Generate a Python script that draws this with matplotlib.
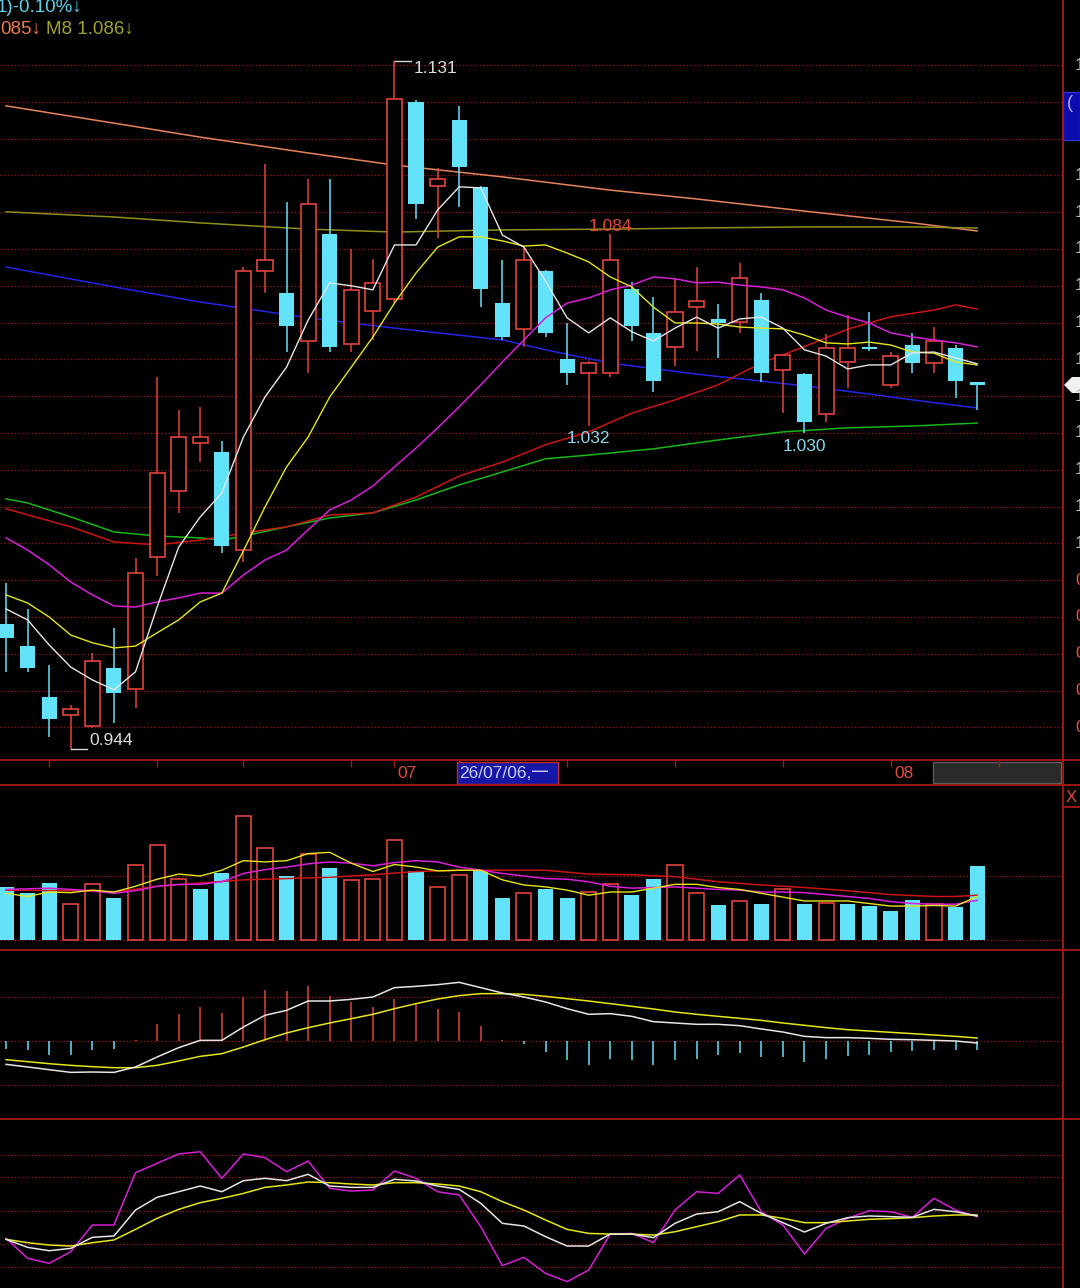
import numpy as np
import matplotlib
matplotlib.use('Agg')
import matplotlib.pyplot as plt
from matplotlib.patches import Rectangle, Polygon
from matplotlib.lines import Line2D

plt.rcParams['font.family'] = ['Liberation Sans', 'DejaVu Sans', 'Noto Sans CJK SC']

# ---------------- data ----------------
opens = [0.9781, 0.9721, 0.9583, 0.9534, 0.9504, 0.9661, 0.9604, 0.9963, 1.0142, 1.0273,
         1.0248, 0.9982, 1.0740, 1.0680, 1.0550, 1.0841, 1.0542, 1.0631, 1.0664, 1.1199,
         1.0971, 1.1151, 1.0968, 1.0653, 1.0583, 1.0740, 1.0501, 1.0463, 1.0463, 1.0691,
         1.0572, 1.0534, 1.0642, 1.0610, 1.0602, 1.0661, 1.0471, 1.0460, 1.0352, 1.0493,
         1.0534, 1.0430, 1.0539, 1.0490, 1.0531, 1.0439]
highs = [0.9892, 0.9822, 0.9670, 0.9561, 0.9702, 0.9770, 0.9960, 1.0452, 1.0363, 1.0371,
         1.0278, 1.0751, 1.1031, 1.0928, 1.0990, 1.0990, 1.0800, 1.0773, 1.1310, 1.1205,
         1.1020, 1.1189, 1.0970, 1.0770, 1.0803, 1.0742, 1.0599, 1.0495, 1.0840, 1.0710,
         1.0670, 1.0721, 1.0751, 1.0651, 1.0762, 1.0680, 1.0512, 1.0462, 1.0569, 1.0621,
         1.0629, 1.0520, 1.0572, 1.0588, 1.0539, 1.0439]
lows = [0.9650, 0.9650, 0.9474, 0.9440, 0.9498, 0.9512, 0.9553, 0.9911, 1.0083, 1.0221,
        0.9974, 0.9949, 1.0680, 1.0520, 1.0463, 1.0520, 1.0520, 1.0553, 1.0653, 1.0882,
        1.0830, 1.0914, 1.0642, 1.0553, 1.0534, 1.0561, 1.0430, 1.0320, 1.0452, 1.0550,
        1.0411, 1.0482, 1.0523, 1.0504, 1.0572, 1.0439, 1.0354, 1.0300, 1.0330, 1.0422,
        1.0523, 1.0422, 1.0463, 1.0463, 1.0395, 1.0363]
closes = [0.9743, 0.9661, 0.9523, 0.9550, 0.9681, 0.9594, 0.9920, 1.0191, 1.0289, 1.0289,
          0.9993, 1.0740, 1.0770, 1.0591, 1.0922, 1.0534, 1.0689, 1.0708, 1.1208, 1.0922,
          1.0990, 1.1023, 1.0691, 1.0561, 1.0770, 1.0572, 1.0463, 1.0490, 1.0770, 1.0591,
          1.0441, 1.0629, 1.0659, 1.0599, 1.0721, 1.0463, 1.0512, 1.0330, 1.0531, 1.0531,
          1.0529, 1.0509, 1.0490, 1.0550, 1.0441, 1.0430]

ma5 = [0.9822, 0.9792, 0.9724, 0.9664, 0.9629, 0.9602, 0.9651, 0.9827, 0.9990, 1.0072,
       1.0137, 1.0289, 1.0398, 1.0479, 1.0607, 1.0708, 1.0700, 1.0689, 1.0811, 1.0811,
       1.0906, 1.0969, 1.0966, 1.0838, 1.0805, 1.0713, 1.0613, 1.0572, 1.0613, 1.0575,
       1.0550, 1.0585, 1.0615, 1.0585, 1.0610, 1.0615, 1.0585, 1.0526, 1.0509, 1.0474,
       1.0485, 1.0485, 1.0518, 1.0520, 1.0504, 1.0488]
ma10 = [0.9860, 0.9838, 0.9800, 0.9751, 0.9730, 0.9716, 0.9721, 0.9757, 0.9792, 0.9841,
        0.9865, 0.9980, 1.0099, 1.0208, 1.0289, 1.0398, 1.0479, 1.0561, 1.0653, 1.0735,
        1.0805, 1.0833, 1.0833, 1.0822, 1.0808, 1.0811, 1.0789, 1.0765, 1.0724, 1.0697,
        1.0642, 1.0599, 1.0599, 1.0596, 1.0588, 1.0585, 1.0583, 1.0566, 1.0545, 1.0542,
        1.0547, 1.0539, 1.0520, 1.0517, 1.0493, 1.0485]
ma20 = [1.0015, 0.9982, 0.9942, 0.9895, 0.9860, 0.9830, 0.9827, 0.9841, 0.9852, 0.9865,
        0.9865, 0.9914, 0.9955, 0.9982, 1.0037, 1.0091, 1.0118, 1.0156, 1.0208, 1.0259,
        1.0314, 1.0371, 1.0431, 1.0493, 1.0553, 1.0613, 1.0653, 1.0667, 1.0689, 1.0702,
        1.0724, 1.0719, 1.0708, 1.0710, 1.0702, 1.0697, 1.0689, 1.0667, 1.0634, 1.0615,
        1.0599, 1.0572, 1.0561, 1.0553, 1.0545, 1.0534]
ma30_idx = [0, 3, 5, 7, 9, 11, 13, 15, 17, 19, 21, 23, 25, 27, 29, 31, 33, 35, 37, 39, 41, 43, 44, 45]
ma30 = [1.0094, 1.0045, 1.0004, 0.9996, 1.0009, 1.0028, 1.0045, 1.0077, 1.0083, 1.0126,
        1.0183, 1.0221, 1.0268, 1.0303, 1.0354, 1.0390, 1.0431, 1.0490, 1.0535, 1.0582,
        1.0616, 1.0634, 1.0648, 1.0637]
ma60_idx = [0, 1, 3, 5, 7, 9, 10, 11, 13, 15, 17, 19, 21, 23, 25, 27, 30, 33, 36, 39, 42, 45]
ma60 = [1.0121, 1.0110, 1.0072, 1.0031, 1.0020, 1.0015, 1.0009, 1.0020, 1.0045, 1.0069,
        1.0083, 1.0118, 1.0159, 1.0194, 1.0230, 1.0240, 1.0257, 1.0281, 1.0303, 1.0314,
        1.0319, 1.0327]
ma120_idx = [0, 5, 9, 14, 18, 23, 25, 28, 32, 35, 37, 40, 42, 45]
ma120 = [1.0751, 1.0697, 1.0656, 1.0613, 1.0585, 1.0553, 1.0526, 1.0490, 1.0460, 1.0441,
         1.0428, 1.0406, 1.0390, 1.0368]
long_idx = [0, 5, 9, 14, 18, 23, 28, 32, 37, 42, 45]
ma250 = [1.1189, 1.1142, 1.1104, 1.1061, 1.1028, 1.0996, 1.0960, 1.0936, 1.0903, 1.0871, 1.0849]
m8 = [1.0901, 1.0887, 1.0871, 1.0854, 1.0846, 1.0852, 1.0854, 1.0857, 1.0860, 1.0860, 1.0857]

volume = [83, 73, 89, 56, 87, 66, 117, 149, 96, 79, 105, 193, 143, 100, 134, 113, 94, 95, 157, 108,
          83, 102, 109, 66, 73, 79, 66, 75, 87, 70, 95, 117, 73, 54, 61, 56, 80, 56, 58, 56,
          53, 45, 62, 57, 52, 116]
vol_up = [0, 0, 0, 1, 1, 0, 1, 1, 1, 0, 0, 1, 1, 0, 1, 0, 1, 1, 1, 0,
          1, 1, 0, 0, 1, 0, 0, 1, 1, 0, 0, 1, 1, 0, 1, 0, 1, 0, 1, 0,
          0, 0, 0, 1, 0, 0]
vol_ma5 = [73, 68, 75, 74, 78, 75, 84, 95, 103, 100, 109, 124, 122, 124, 135, 137, 120, 107, 118, 114,
           108, 109, 109, 94, 86, 83, 78, 70, 75, 75, 81, 87, 87, 82, 79, 73, 67, 61, 61, 61,
           57, 53, 53, 54, 53, 68]
vol_ma10 = [79, 80, 81, 79, 77, 73, 77, 84, 87, 87, 91, 104, 110, 114, 119, 122, 120, 116, 121, 124,
            122, 114, 109, 104, 100, 96, 95, 91, 84, 81, 82, 83, 81, 79, 78, 75, 75, 74, 71, 68,
            65, 60, 57, 56, 56, 62]
vol_ma20_idx = [0, 3, 5, 7, 9, 11, 13, 15, 17, 19, 21, 23, 25, 27, 29, 31, 33, 35, 37, 39, 41, 43, 44, 45]
vol_ma20 = [78, 77, 75, 84, 89, 94, 96, 98, 102, 107, 109, 109, 109, 103, 102, 99, 91, 86, 82, 77,
            71, 68, 68, 70]

# MACD in units of 0.001
macd_hist = [-1.74, -2.12, -3.26, -3.26, -2.12, -1.74, 0.30, 3.79, 6.21, 7.72,
             6.36, 9.99, 11.66, 11.36, 12.41, 10.14, 8.86, 7.72, 9.61, 8.48,
             7.34, 6.59, 3.33, 0.15, -0.61, -2.50, -4.39, -5.53, -4.01, -4.39,
             -5.53, -4.39, -4.01, -3.26, -2.73, -3.63, -3.63, -4.77, -4.01, -3.48,
             -3.26, -2.50, -2.27, -1.97, -2.12, -1.97]
dif = [-5.30, -5.90, -6.51, -7.12, -7.04, -7.12, -5.90, -3.63, -1.51, 0.15,
       0.15, 3.18, 5.83, 6.96, 9.08, 9.08, 9.46, 9.99, 12.11, 12.41,
       12.79, 13.32, 12.11, 10.90, 9.99, 8.86, 7.34, 6.06, 6.21, 5.60,
       4.39, 4.09, 3.79, 3.79, 3.48, 2.73, 2.04, 1.06, 0.76, 0.76,
       0.61, 0.38, 0.30, 0.15, 0.00, -0.45]
dea = [-4.24, -4.69, -5.15, -5.53, -5.83, -6.06, -6.06, -5.53, -4.54, -3.48,
       -2.88, -1.36, 0.30, 1.82, 3.03, 4.09, 5.07, 6.06, 7.34, 8.48,
       9.54, 10.30, 10.75, 10.75, 10.60, 10.14, 9.61, 9.08, 8.48, 7.87,
       7.27, 6.59, 6.06, 5.60, 5.15, 4.69, 4.09, 3.56, 3.03, 2.57,
       2.27, 1.97, 1.67, 1.36, 1.06, 0.68]

kdj_k = [24.5, 17.3, 14.3, 16.4, 26.3, 27.5, 50.7, 62.1, 67.1, 72.2,
         67.1, 77.0, 79.1, 77.0, 82.7, 72.2, 71.0, 71.0, 78.2, 76.7,
         72.2, 69.2, 56.7, 38.8, 36.4, 26.9, 18.5, 18.5, 29.2, 29.2,
         26.0, 38.8, 47.1, 49.2, 58.2, 47.7, 39.4, 31.0, 38.8, 43.9,
         45.4, 44.8, 44.2, 51.3, 49.2, 45.4]
kdj_d = [24.5, 21.5, 19.4, 18.5, 21.5, 23.9, 33.4, 43.3, 51.3, 57.3,
         61.2, 65.6, 71.0, 73.1, 75.8, 75.2, 74.0, 73.1, 75.2, 75.2,
         74.0, 72.2, 67.1, 58.2, 50.7, 41.8, 33.4, 29.8, 29.2, 29.2,
         28.3, 31.3, 35.8, 40.3, 46.3, 46.3, 43.3, 39.4, 39.4, 40.9,
         42.4, 43.0, 43.9, 45.4, 46.3, 46.3]
kdj_j = [25.4, 7.5, 3.0, 13.4, 37.3, 37.3, 84.2, 92.5, 100.9, 102.9,
         79.1, 100.9, 97.6, 85.0, 94.6, 70.1, 67.7, 68.6, 85.6, 79.1,
         67.1, 64.2, 35.8, 0.9, 8.4, -6.0, -13.4, -3.0, 29.2, 29.8,
         21.5, 50.7, 67.1, 65.6, 82.1, 49.2, 37.3, 11.3, 34.3, 43.3,
         50.1, 49.2, 44.2, 61.2, 50.7, 44.8]

price_grid = [0.95, 0.96, 0.97, 0.98, 0.99, 1.00, 1.01, 1.02, 1.03, 1.04,
              1.05, 1.06, 1.07, 1.08, 1.09, 1.10, 1.11, 1.12, 1.13]
week_ticks = [2, 7, 11, 16, 18, 21, 26, 31, 36, 41, 46]
month_labels = [(18, '07'), (41, '08')]
cursor_idx = 21
cursor_label = '26/07/06,一'

# ---------------- style ----------------
W, H = 1080, 1288
RIGHT = 1063
X0, X1 = -0.28, 48.98
STEP = 21.58          # pixels per candle
RED = '#e2433c'
CYAN = '#62e3fa'
GRID = '#8a1414'
SEP = '#a81818'

fig = plt.figure(figsize=(W / 100, H / 100), dpi=100, facecolor='black')


def add_panel(top, bottom, ylim):
    ax = fig.add_axes([0, 1 - bottom / H, RIGHT / W, (bottom - top) / H])
    ax.set_xlim(X0, X1)
    ax.set_ylim(*ylim)
    ax.set_axis_off()
    return ax


def dotted(ax, levels):
    for v in levels:
        ax.axhline(v, color=GRID, lw=0.9, ls=(0, (1.2, 1.6)), zorder=0)


def hline_px(y, x0=0, x1=W, color=SEP, lw=1.3):
    fig.add_artist(Line2D([x0 / W, x1 / W], [1 - y / H, 1 - y / H],
                          transform=fig.transFigure, color=color, lw=lw))


x = np.arange(len(closes))
o = np.array(opens); c = np.array(closes)
hi = np.array(highs); lo = np.array(lows)
up = c >= o
btop = np.maximum(o, c); bbot = np.minimum(o, c)

# ---------------- main price panel ----------------
ax = add_panel(0, 760, (1.13 - 695 / 3680, 1.13 + 65 / 3680))
dotted(ax, price_grid)

ax.plot(long_idx, ma250, color='#e8845a', lw=1.1, zorder=2)
ax.plot(long_idx, m8, color='#8f8f1c', lw=1.1, zorder=2)
ax.plot(ma120_idx, ma120, color='#2424e6', lw=1.1, zorder=2)
ax.plot(ma60_idx, ma60, color='#14b814', lw=1.1, zorder=2)
ax.plot(ma30_idx, ma30, color='#cc1414', lw=1.1, zorder=2)

wick_col = [RED if u else CYAN for u in up]
ax.vlines(x, btop, hi, colors=wick_col, lw=1.1, zorder=3)
ax.vlines(x, lo, bbot, colors=wick_col, lw=1.1, zorder=3)
ax.bar(x[up], (btop - bbot)[up], bottom=bbot[up], width=0.7,
       facecolor='black', edgecolor=RED, lw=1.2, zorder=3)
ax.bar(x[~up], np.maximum((btop - bbot)[~up], 0.0004), bottom=bbot[~up], width=0.7,
       color=CYAN, lw=0, zorder=3)

ax.plot(x, ma20, color='#d81ed8', lw=1.1, zorder=4)
ax.plot(x, ma10, color='#e6e61a', lw=1.0, zorder=4)
ax.plot(x, ma5, color='#e6e6e6', lw=1.0, zorder=4)

# extreme labels
ax.plot([18, 18.75], [1.131, 1.131], color='#d8d8d8', lw=1)
ax.text(18.9, 1.131, '1.131', color='#dcdcdc', fontsize=12.5, ha='left', va='top')
ax.plot([3, 3.75], [0.944, 0.944], color='#d8d8d8', lw=1)
ax.text(3.85, 0.9452, '0.944', color='#dcdcdc', fontsize=12.5, ha='left', va='baseline')
ax.text(28, 1.0849, '1.084', color='#e4473a', fontsize=12.5, ha='center', va='baseline')
ax.text(27, 1.0273, '1.032', color='#86d6ee', fontsize=12.5, ha='center', va='baseline')
ax.text(37, 1.0251, '1.030', color='#86d6ee', fontsize=12.5, ha='center', va='baseline')

# legend texts (cut at the left edge like the screenshot)
fig.text(-3 / W, 1 - 7 / H, '1)-0.10%↓', color='#5ad2ea', fontsize=13.5, ha='left', va='center')
fig.text(0, 1 - 29 / H, '085↓', color='#f07a4a', fontsize=13.5, ha='left', va='center')
fig.text(46 / W, 1 - 29 / H, 'M8 1.086↓', color='#a2a22a', fontsize=13.5, ha='left', va='center')

# ---------------- date strip ----------------
axd = add_panel(760, 785, (0, 1))
axd.add_patch(Rectangle(((933 - 6) / STEP, 0.08), (1061 - 933) / STEP, 0.84,
                        facecolor='#2a2a2a', edgecolor='#5a5a5a', lw=1, zorder=1))
axd.vlines(week_ticks, 0.72, 1, color=SEP, lw=1, zorder=2)
for idx, lab in month_labels:
    axd.text(idx + 0.15, 0.45, lab, color='#e5483e', fontsize=12.5, ha='left', va='center')
axd.add_patch(Rectangle((cursor_idx - 0.1, 0.04), 4.68, 0.9, facecolor='#1616a6',
                        edgecolor='#c02828', lw=1, zorder=3))
axd.text(cursor_idx, 0.47, cursor_label, color='#c8ccff', fontsize=12.5,
         ha='left', va='center', zorder=4)

# ---------------- volume panel ----------------
axv = add_panel(785, 950, (-15.6, 242.2))
dotted(axv, [0, 100])
vu = np.array(vol_up, dtype=bool)
vol = np.array(volume, dtype=float)
axv.bar(x[vu], vol[vu], width=0.7, facecolor='black', edgecolor=RED, lw=1.2, zorder=2)
axv.bar(x[~vu], vol[~vu], width=0.7, color=CYAN, lw=0, zorder=2)
axv.plot(vol_ma20_idx, vol_ma20, color='#cc1414', lw=1.1, zorder=3)
axv.plot(x, vol_ma10, color='#d81ed8', lw=1.1, zorder=3)
axv.plot(x, vol_ma5, color='#e6e61a', lw=1.0, zorder=3)

# ---------------- MACD panel ----------------
axm = add_panel(950, 1118, (-17.48, 20.66))
dotted(axm, [-10, 0, 10])
hist = np.array(macd_hist)
axm.vlines(x, 0, hist, colors=[RED if h > 0 else CYAN for h in hist], lw=1.1, zorder=2)
axm.plot(x, dea, color='#e6e61a', lw=1.1, zorder=3)
axm.plot(x, dif, color='#e6e6e6', lw=1.1, zorder=3)

# ---------------- KDJ panel ----------------
axk = add_panel(1120, 1288, (-19.07, 131.3))
dotted(axk, [0, 20, 50, 80, 100])
axk.plot(x, kdj_j, color='#d81ed8', lw=1.1, zorder=2)
axk.plot(x, kdj_d, color='#e6e61a', lw=1.1, zorder=3)
axk.plot(x, kdj_k, color='#e6e6e6', lw=1.1, zorder=4)

# ---------------- frame / right strip ----------------
for yy in (760, 785, 950, 1119):
    hline_px(yy)
hline_px(807, RIGHT, W)
fig.add_artist(Line2D([RIGHT / W, RIGHT / W], [0, 1], transform=fig.transFigure, color=SEP, lw=1.3))

# right axis labels, cut off by the screenshot edge
for p in price_grid:
    yy = 65 + (1.13 - p) * 3680
    if 90 < yy < 142:
        continue
    col = '#bdbdbd' if p >= 0.995 else '#e0504a'
    fig.text(1075 / W, 1 - yy / H, f'{p:.3f}', color=col, fontsize=12.5, va='center')

fig.add_artist(Rectangle((RIGHT / W, 1 - 140 / H), (W - RIGHT) / W, 48 / H,
                         transform=fig.transFigure, facecolor='#0c0cae', edgecolor='#3030d0', lw=1))
fig.text(1067 / W, 1 - 104 / H, '(', color='#b0b0ff', fontsize=13, va='center')
fig.add_artist(Polygon([(1064 / W, 1 - 385 / H), (1072 / W, 1 - 377 / H), (1.0, 1 - 377 / H),
                        (1.0, 1 - 393 / H), (1072 / W, 1 - 393 / H)],
                       closed=True, transform=fig.transFigure, facecolor='#f0f0f0', edgecolor='none'))
fig.text(1066 / W, 1 - 797 / H, 'X', color='#e0443c', fontsize=12, va='center')

fig.savefig('out.png', dpi=100, facecolor='black')
